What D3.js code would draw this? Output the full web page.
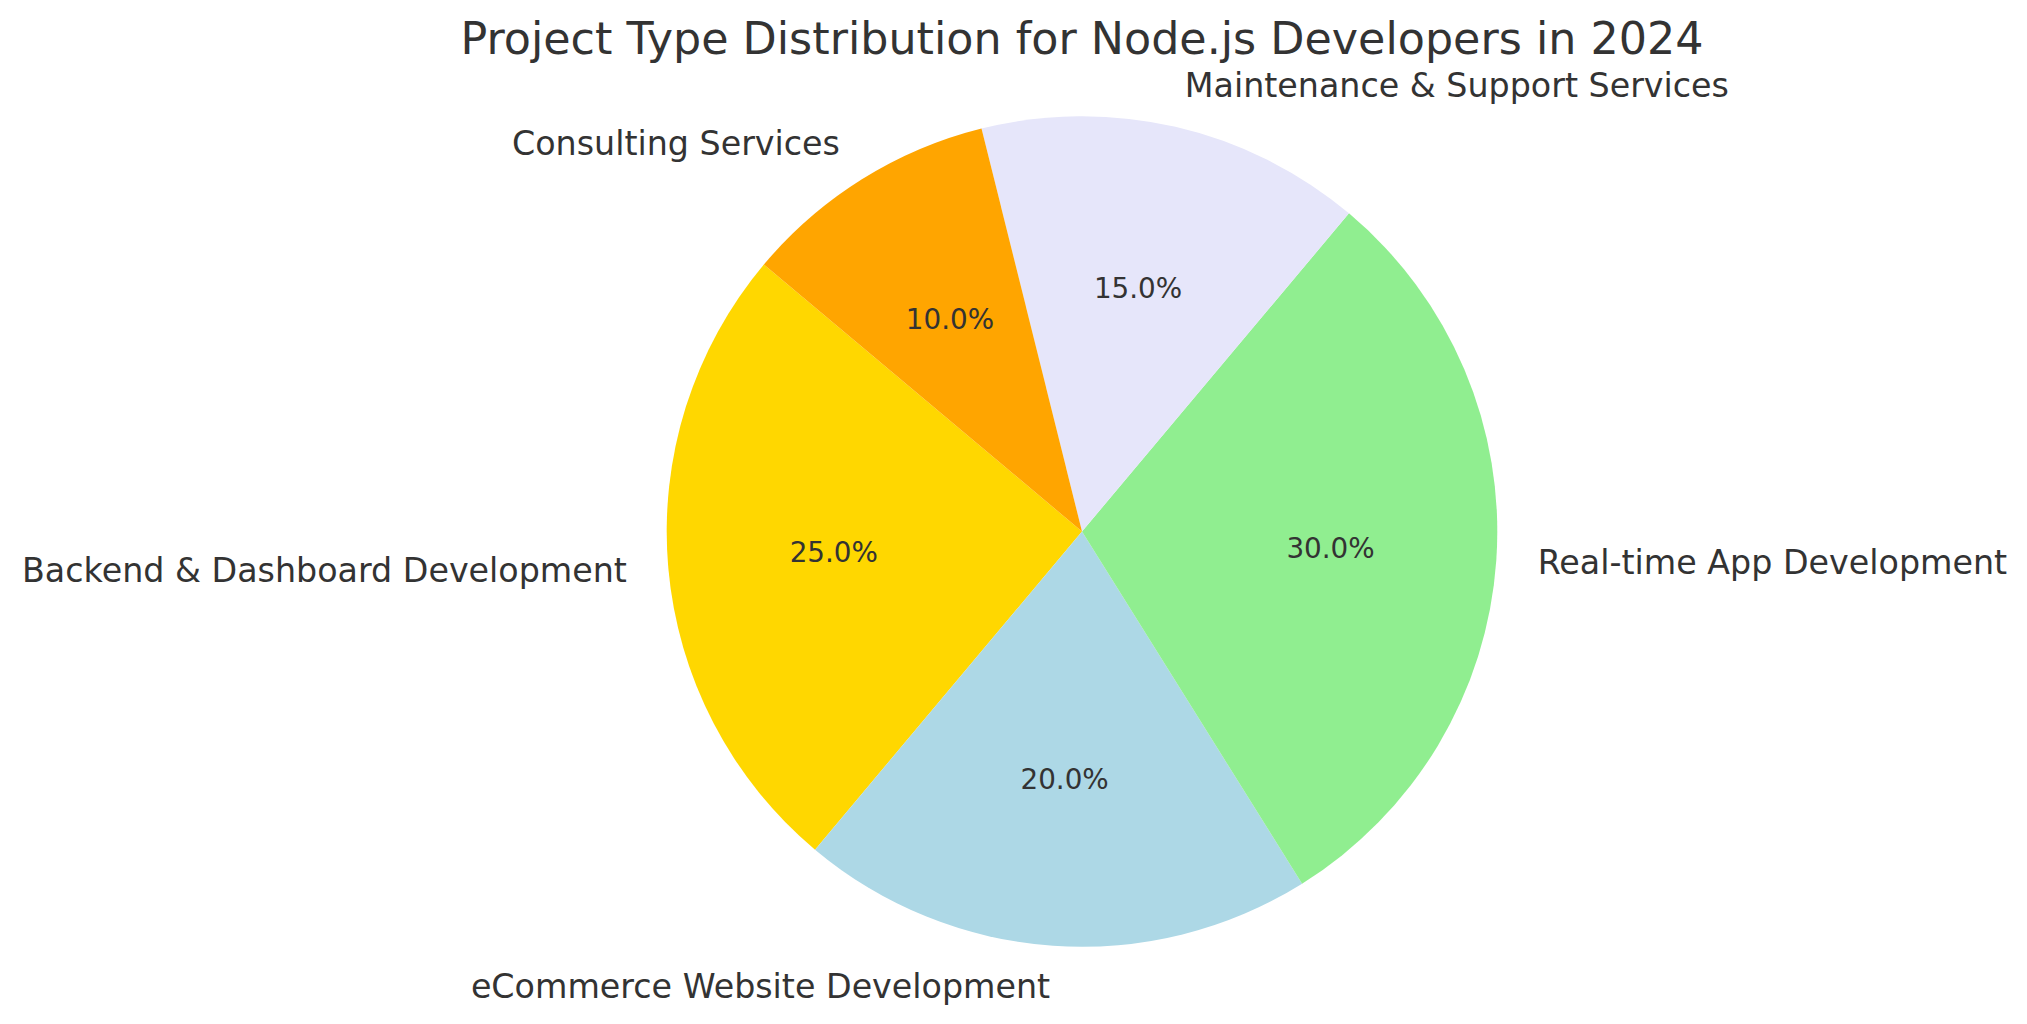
<!DOCTYPE html>
<html>
<head>
<meta charset="utf-8">
<script src="https://cdn.jsdelivr.net/npm/d3@7"></script>
<style>
  html, body { margin: 0; padding: 0; background: #ffffff; }
  svg { display: block; }
  text { font-family: "DejaVu Sans", sans-serif; fill: #333333; }
</style>
</head>
<body>
<svg id="chart" width="2027" height="1024"></svg>
<script>
// Data (order as drawn counter-clockwise from start angle 140°)
const categories = [
  "Backend & Dashboard Development",
  "eCommerce Website Development",
  "Real-time App Development",
  "Maintenance & Support Services",
  "Consulting Services"
];
const values = [25, 20, 30, 15, 10];
const colors = ["#FFD700", "#ADD8E6", "#90EE90", "#E6E6FA", "#FFA500"];
const title = "Project Type Distribution for Node.js Developers in 2024";

const W = 2027, H = 1024;
const cx = 1082, cy = 531.5, R = 415.3;
const startDeg = 140; // matplotlib-style start angle (counter-clockwise from 3 o'clock)

const svg = d3.select("#chart");
const g = svg.append("g").attr("transform", `translate(${cx},${cy})`);

const toRad = d => d * Math.PI / 180;
const a0 = toRad(90 - startDeg);
const pie = d3.pie().sort(null).value(d => d)
  .startAngle(a0).endAngle(a0 - 2 * Math.PI);
const arcs = pie(values);

const arc = d3.arc().innerRadius(0).outerRadius(R);
const labelArc = d3.arc().innerRadius(1.1 * R).outerRadius(1.1 * R);
const pctArc = d3.arc().innerRadius(0.6 * R).outerRadius(0.6 * R);

g.selectAll("path.slice").data(arcs).enter().append("path")
  .attr("class", "slice")
  .attr("d", arc)
  .attr("fill", (d, i) => colors[i]);

const total = d3.sum(values);

g.selectAll("text.pct").data(arcs).enter().append("text")
  .attr("class", "pct")
  .attr("x", d => pctArc.centroid(d)[0])
  .attr("y", d => pctArc.centroid(d)[1])
  .attr("dy", "0.33em")
  .attr("text-anchor", "middle")
  .style("font-size", "27.8px")
  .text(d => (d.value / total * 100).toFixed(1) + "%");

g.selectAll("text.lbl").data(arcs).enter().append("text")
  .attr("class", "lbl")
  .attr("x", d => labelArc.centroid(d)[0])
  .attr("y", d => labelArc.centroid(d)[1])
  .attr("dy", "0.33em")
  .attr("text-anchor", d => labelArc.centroid(d)[0] > 0 ? "start" : "end")
  .style("font-size", "33.3px")
  .text((d, i) => categories[i]);

svg.append("text")
  .attr("x", cx)
  .attr("y", 54)
  .attr("text-anchor", "middle")
  .style("font-size", "44.4px")
  .text(title);
</script>
</body>
</html>
